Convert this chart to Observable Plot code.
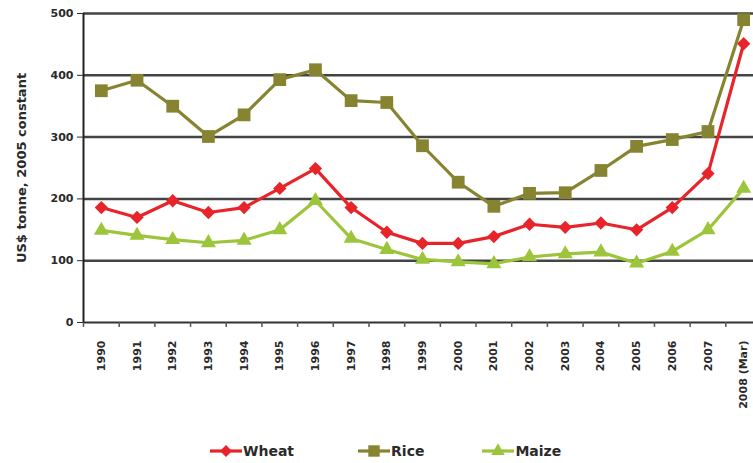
<!DOCTYPE html>
<html><head><meta charset="utf-8">
<script src="https://cdn.jsdelivr.net/npm/d3@7"></script>
<script src="https://cdn.jsdelivr.net/npm/@observablehq/plot@0.6"></script>
<style>
body{margin:0;background:#fff;font-family:"DejaVu Sans",sans-serif;}
#legend{display:flex;align-items:center;height:22px;margin-top:4px;padding-left:210px;font-family:"DejaVu Sans",sans-serif;font-weight:bold;font-size:14px;color:#2a2a2a;}
.item{display:flex;align-items:center;}
.item svg{margin-right:1px;}
</style>
</head><body>
<div id="chart"></div>
<div id="legend"></div>
<script>
const years = ["1990","1991","1992","1993","1994","1995","1996","1997","1998","1999","2000","2001","2002","2003","2004","2005","2006","2007","2008 (Mar)"];
const wheat = [186,170,197,178,186,217,249,186,146,128,128,139,159,154,161,150,186,241,451];
const rice  = [375,392,350,301,336,393,409,359,356,286,227,188,209,210,246,285,296,309,490];
const maize = [149,141,134,129,133,150,197,136,118,102,98,95,106,111,114,96,115,150,217];
const seriesNames = ["Wheat","Rice","Maize"];
const seriesColors = ["#e8242b","#878431","#9dc53b"];
const seriesSymbols = ["diamond2","square","triangle"];
const seriesRadius = [6,7.2,5.6];
const yTicks = [0,100,200,300,400,500];
const yLabel = "US$ tonne, 2005 constant";

const seriesValues = [wheat, rice, maize];
const rows = seriesNames.flatMap((s, i) => years.map((y, j) => ({series: s, year: y, value: seriesValues[i][j]})));

const xRange = [83, 761];
const step = (xRange[1] - xRange[0]) / years.length;

const chart = Plot.plot({
  width: 753, height: 436,
  marginLeft: 83, marginRight: 0, marginTop: 13, marginBottom: 114,
  style: {fontFamily: "DejaVu Sans, sans-serif", color: "#2a2a2a", background: "#fff"},
  x: {type: "point", domain: years, range: xRange, padding: 0.5, round: false},
  y: {domain: [0, 500]},
  color: {domain: seriesNames, range: seriesColors},
  marks: [
    Plot.ruleY(yTicks.slice(1), {stroke: "#444", strokeWidth: 2.5}),
    Plot.ruleY([0], {stroke: "#333", strokeWidth: 2}),
    Plot.ruleX([years[0]], {dx: -step / 2, y1: 0, y2: 500, stroke: "#222", strokeWidth: 2}),
    Plot.ruleX(years, {dx: -step / 2, y1: 0, y2: -8, stroke: "#555", strokeWidth: 1.5}),
    Plot.line(rows, {x: "year", y: "value", z: "series", stroke: "series", strokeWidth: 3.2}),
    ...seriesNames.map((s, i) => Plot.dot(rows.filter(d => d.series === s), {
      x: "year", y: "value", symbol: seriesSymbols[i], fill: seriesColors[i], stroke: "none", r: seriesRadius[i]
    })),
    Plot.axisY({ticks: yTicks, tickSize: 6, tickPadding: 4, fontWeight: "bold", fontSize: 11, label: null}),
    Plot.axisY({ticks: [], label: yLabel, labelAnchor: "center", labelArrow: "none", labelOffset: 67, fontWeight: "bold", fontSize: 13}),
    Plot.axisX({tickSize: 0, tickRotate: -90, tickPadding: 18, fontWeight: "bold", fontSize: 11, label: null})
  ]
});
document.getElementById("chart").appendChild(chart);

const legend = d3.select("#legend");
const gaps = [0, 64, 58];
const symbolTypes = {diamond2: d3.symbolDiamond2, square: d3.symbolSquare, triangle: d3.symbolTriangle};
seriesNames.forEach((s, i) => {
  const item = legend.append("div").attr("class", "item").style("margin-left", gaps[i] + "px");
  const svg = item.append("svg").attr("width", 32).attr("height", 16);
  svg.append("line").attr("x1", 0).attr("x2", 32).attr("y1", 8).attr("y2", 8)
    .attr("stroke", seriesColors[i]).attr("stroke-width", 3.2);
  svg.append("path").attr("transform", "translate(16,8)")
    .attr("d", d3.symbol(symbolTypes[seriesSymbols[i]], Math.PI * seriesRadius[i] * seriesRadius[i] * 0.8)())
    .attr("fill", seriesColors[i]);
  item.append("span").text(s);
});
</script>
</body></html>
